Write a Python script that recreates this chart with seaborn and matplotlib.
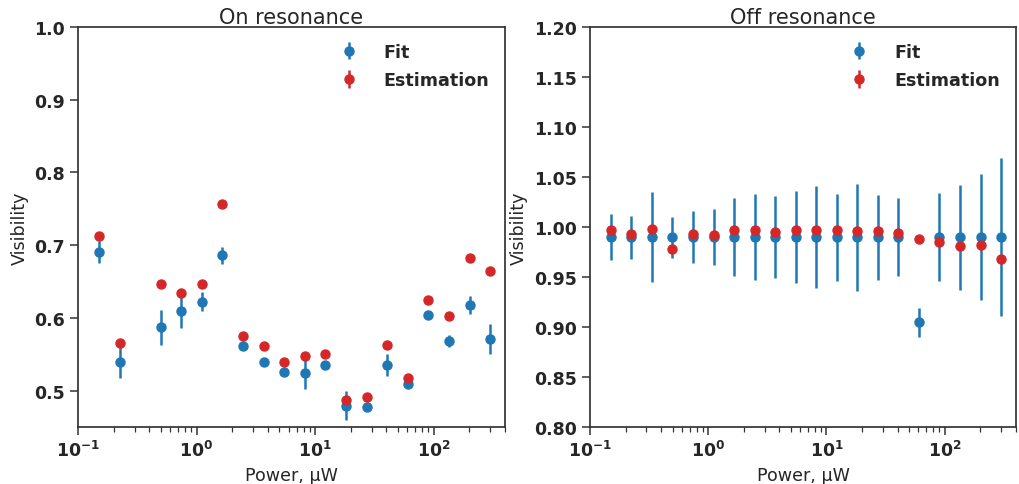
import numpy as np
import pandas as pd
import matplotlib
matplotlib.use("Agg")
import matplotlib.pyplot as plt
import seaborn as sns

# Laser power, µW
power = [0.15, 0.224, 0.334, 0.498, 0.743, 1.11, 1.65, 2.47, 3.68, 5.49,
         8.19, 12.2, 18.2, 27.2, 40.6, 60.5, 90.3, 135, 201, 300]

# On resonance (no measurement at 0.334 µW)
on_fit = [0.691, 0.539, np.nan, 0.587, 0.609, 0.622, 0.686, 0.562, 0.540, 0.525,
          0.524, 0.535, 0.479, 0.477, 0.535, 0.509, 0.604, 0.568, 0.618, 0.571]
on_fit_err = [0.015, 0.022, np.nan, 0.024, 0.023, 0.013, 0.012, 0.003, 0.003, 0.003,
              0.022, 0.003, 0.020, 0.003, 0.015, 0.004, 0.003, 0.008, 0.0125, 0.020]
on_est = [0.712, 0.566, np.nan, 0.646, 0.634, 0.646, 0.756, 0.575, 0.562, 0.540,
          0.548, 0.550, 0.487, 0.491, 0.563, 0.518, 0.624, 0.603, 0.682, 0.664]
on_est_err = [0.002] * 20

# Off resonance
off_fit = [0.990, 0.990, 0.990, 0.990, 0.990, 0.990, 0.990, 0.990, 0.990, 0.990,
           0.990, 0.990, 0.990, 0.990, 0.990, 0.905, 0.990, 0.990, 0.990, 0.990]
off_fit_err = [0.023, 0.0215, 0.045, 0.0205, 0.0257, 0.028, 0.039, 0.043, 0.041, 0.046,
               0.051, 0.0435, 0.0535, 0.0425, 0.039, 0.0145, 0.044, 0.0525, 0.063, 0.079]
off_est = [0.997, 0.993, 0.998, 0.978, 0.993, 0.992, 0.997, 0.997, 0.995, 0.997,
           0.997, 0.997, 0.996, 0.996, 0.994, 0.988, 0.985, 0.981, 0.982, 0.968]
off_est_err = [0.002] * 20

on_df = pd.DataFrame({"power": power, "fit": on_fit, "fit_err": on_fit_err,
                      "est": on_est, "est_err": on_est_err}).dropna()
off_df = pd.DataFrame({"power": power, "fit": off_fit, "fit_err": off_fit_err,
                       "est": off_est, "est_err": off_est_err})

sns.set_theme(style="ticks")
plt.rcParams["font.family"] = ["DejaVu Sans"]
plt.rcParams["axes.edgecolor"] = "#333333"
plt.rcParams["axes.linewidth"] = 1.25

blue = sns.color_palette("tab10")[0]
red = sns.color_palette("tab10")[3]

fig = plt.figure(figsize=(10.2, 4.85), dpi=100)
ax1 = fig.add_axes([0.0765, 0.1175, 0.4186, 0.8247])
ax2 = fig.add_axes([0.5784, 0.1175, 0.4176, 0.8247])


def draw(ax, df, title, ylim, yticks, fmt):
    ax.errorbar(df["power"], df["fit"], yerr=df["fit_err"], fmt="o", color=blue,
                ms=6.5, elinewidth=1.8, capsize=0, label="Fit")
    ax.errorbar(df["power"], df["est"], yerr=df["est_err"], fmt="o", color=red,
                ms=6.5, elinewidth=1.8, capsize=0, label="Estimation")
    ax.set_xscale("log")
    ax.set_xlim(0.1, 400)
    ax.set_ylim(*ylim)
    ax.set_yticks(yticks)
    ax.set_yticklabels([fmt.format(v) for v in yticks])
    ax.set_title(title, fontsize=15, color="#262626", pad=3)
    ax.set_xlabel("Power, μW", fontsize=12.6, color="#262626")
    ax.set_ylabel("Visibility", fontsize=12.6, color="#262626")
    for lab in ax.get_xticklabels() + ax.get_yticklabels():
        lab.set_fontweight("bold")
        lab.set_fontsize(12.5)
        lab.set_color("#262626")
    ax.tick_params(which="major", length=6, width=1.1, color="#333333")
    ax.tick_params(which="minor", length=3.5, width=0.9, color="#333333")
    leg = ax.legend(loc="upper right", frameon=False, labelspacing=0.6,
                    prop={"weight": "bold", "size": 12.6}, handletextpad=1.0)
    for t in leg.get_texts():
        t.set_color("#262626")


draw(ax1, on_df, "On resonance", (0.45, 1.0),
     [0.5, 0.6, 0.7, 0.8, 0.9, 1.0], "{:.1f}")
draw(ax2, off_df, "Off resonance", (0.8, 1.2),
     [0.80, 0.85, 0.90, 0.95, 1.00, 1.05, 1.10, 1.15, 1.20], "{:.2f}")

for ax in (ax1, ax2):
    for lab in ax.get_xticklabels():
        lab.set_fontweight("bold")

fig.savefig("out.png", dpi=100)
